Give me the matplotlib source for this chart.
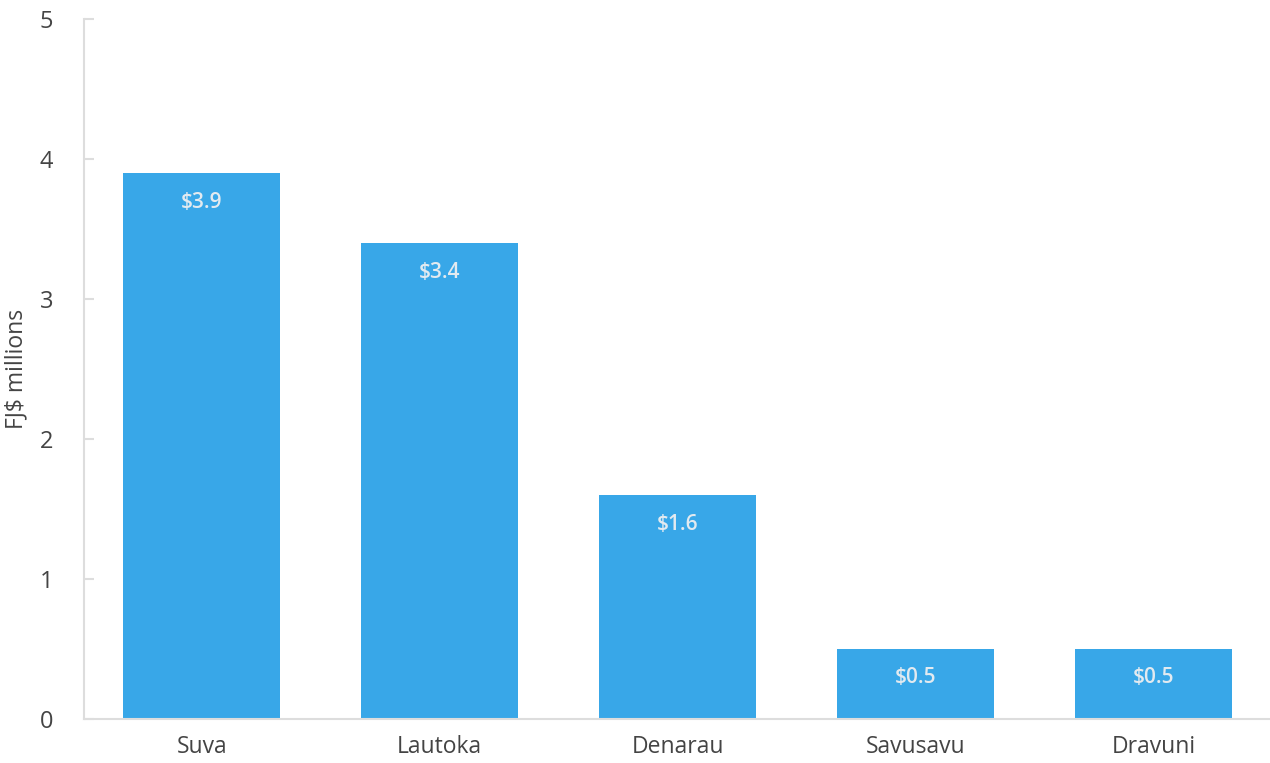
import matplotlib
matplotlib.use('Agg')
import matplotlib.pyplot as plt

# Datos del gráfico
ciudades = ['Suva', 'Lautoka', 'Denarau', 'Savusavu', 'Dravuni']
valores = [3.9, 3.4, 1.6, 0.5, 0.5]
etiquetas = ['$3.9', '$3.4', '$1.6', '$0.5', '$0.5']
yticks = [0, 1, 2, 3, 4, 5]

plt.rcParams['font.family'] = ['Open Sans', 'DejaVu Sans']

fig = plt.figure(figsize=(12.7, 7.63), dpi=100)
ax = fig.add_axes([0.066, 0.058, 0.936, 0.917])

x = range(len(ciudades))
bars = ax.bar(x, valores, width=0.66, color='#38a7e8')

for b, txt in zip(bars, etiquetas):
    ax.annotate(txt, (b.get_x() + b.get_width() / 2, b.get_height()),
                xytext=(0, -21), textcoords='offset points', ha='center', va='center',
                fontsize=15, fontweight='semibold', color='#e2eaf0')

ax.set_xlim(-0.496, 4.5)
ax.set_ylim(0, 5)
ax.set_yticks(yticks)
ax.set_xticks(list(x))
ax.set_xticklabels(ciudades)

for s in ['top', 'right']:
    ax.spines[s].set_visible(False)
for s in ['left', 'bottom']:
    ax.spines[s].set_color('#dddddd')
    ax.spines[s].set_linewidth(1.5)

ax.tick_params(axis='y', direction='in', length=7, width=1.5, color='#dddddd',
               labelsize=17, labelcolor='#444444', pad=22)
ax.tick_params(axis='x', length=0, labelsize=16.5, labelcolor='#444444', pad=12)
for lab in ax.get_xticklabels() + ax.get_yticklabels():
    lab.set_fontweight('medium')
ax.set_ylabel('FJ$ millions', fontsize=16.5, color='#444444', labelpad=8)

plt.savefig('out.png')
